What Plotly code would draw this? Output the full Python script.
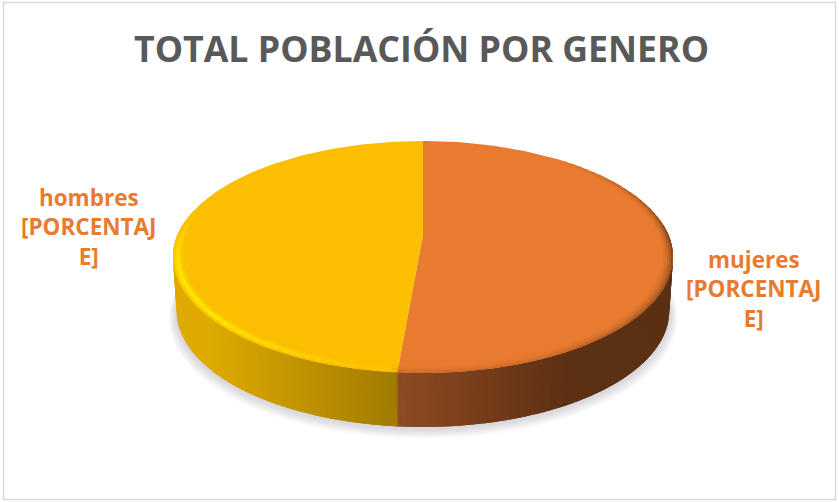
import numpy as np
import plotly.graph_objects as go

# ---- data ----
title_text = "TOTAL POBLACIÓN POR GENERO"
categories = ["mujeres", "hombres"]
values = [51.35, 48.65]
value_label = "[PORCENTAJ<br>E]"
colors = ["#E97B30", "#FBBE00"]

# ---- 3D-look projection of the unit disc into the 839x502 canvas ----
CX, APEX_Y, K, A, B, DEPTH = 423.0, 235.0, -0.1897, 111.8, 245.5, 54.0
OVERLAP = 0.02


def rim(theta, r=1.0, drop=0.0, scale=1.0):
    x = r * np.sin(theta)
    y = -r * np.cos(theta)
    d = 1 + K * y
    return CX + scale * B * x / d, APEX_Y + A * y / d + drop


def mix(c1, c2, t):
    t = float(np.clip(t, 0, 1))
    return "rgb(%d,%d,%d)" % tuple(round(a + (b - a) * t) for a, b in zip(c1, c2))


def poly(xs, ys, color):
    return go.Scatter(x=xs, y=ys, mode="lines", fill="toself", fillcolor=color,
                      line=dict(width=0), hoverinfo="skip", showlegend=False)


fig = go.Figure()
fractions = np.cumsum([0] + values) / sum(values) * 2 * np.pi
split = fractions[1]
t_all = np.linspace(0, 2 * np.pi, 240)

# soft ground shadow
for grow, shift in [(1.03, 6), (1.024, 5), (1.018, 4), (1.012, 3), (1.006, 2)]:
    sx, sy = rim(t_all, grow, DEPTH + shift, 0.985)
    fig.add_trace(go.Scatter(x=sx, y=sy, mode="lines", fill="toself",
                             fillcolor="rgba(90,90,110,0.05)", line=dict(width=0),
                             hoverinfo="skip", showlegend=False))

# side wall, front half only: shaded by horizontal position.
# Strips are painted in order, each running under the next, so no seams show.
edges = np.unique(np.r_[np.linspace(np.pi / 2 - 0.12, 3 * np.pi / 2 + 0.12, 181), split])
for a0, a1 in zip(edges[:-1], edges[1:]):
    mid = (a0 + a1) / 2
    xm = rim(mid)[0]
    if mid < split:
        col = mix((142, 74, 34), (92, 48, 18), (xm - 399) / 170)
    else:
        col = mix((160, 122, 0), (222, 170, 0), (399 - xm) / 190)
    seg = np.linspace(a0, a1 + OVERLAP, 4)
    tx, ty = rim(seg)
    bx, by = rim(seg[::-1], 1.0, DEPTH, 0.985)
    fig.add_trace(poly(np.r_[tx, bx, tx[0]], np.r_[ty, by, ty[0]], col))

# top slices
for i, (start, stop) in enumerate(zip(fractions[:-1], fractions[1:])):
    t = np.linspace(start, stop, 160)
    xs, ys = rim(t)
    ax, ay = rim(np.array([0.0]), 0.0)
    fig.add_trace(poly(np.r_[ax, xs, ax], np.r_[ay, ys, ay], colors[i]))

# bevel around the rim: (outer radius, inner radius, dark weight, bright weight)
band = [(1.000, 0.993, 0.75, 0.15), (0.993, 0.985, 0.50, 0.55), (0.985, 0.977, 0.30, 1.00),
        (0.977, 0.969, 0.16, 0.60), (0.969, 0.961, 0.07, 0.25)]
edges = np.unique(np.r_[np.linspace(np.pi / 2 - 0.9, 3 * np.pi / 2 + 0.2, 100), split])
for r0, r1, dark, bright in band:
    for a0, a1 in zip(edges[:-1], edges[1:]):
        mid = (a0 + a1) / 2
        if mid < split:
            lit = np.clip((mid - (np.pi / 2 - 0.9)) / 0.9, 0, 1)
            right = np.clip((split - mid) / 1.6, 0.3, 1)
            col = mix((233, 123, 48), (96, 50, 20), dark * lit * right)
        else:
            lit = np.clip((mid - split) / 0.7, 0.1, 1) * np.clip((3 * np.pi / 2 + 0.2 - mid) / 0.5, 0, 1)
            col = mix((251, 190, 0), (255, 236, 0), bright * lit)
        seg = np.linspace(a0, a1 + OVERLAP, 4)
        ox, oy = rim(seg, r0)
        ix, iy = rim(seg[::-1], r1)
        fig.add_trace(poly(np.r_[ox, ix, ox[0]], np.r_[oy, iy, oy[0]], col))

label_pos = [(754, 289), (88.5, 227)]
for name, col, (lx, ly) in zip(categories, colors, label_pos):
    fig.add_annotation(x=lx, y=ly, xref="x", yref="y", showarrow=False, align="center",
                       text=f"<b>{name}<br>{value_label}</b>",
                       font=dict(family="Open Sans, Noto Sans, sans-serif", size=22.5, color=colors[0]))

fig.add_annotation(x=421, y=48, xref="x", yref="y", showarrow=False,
                   text=f"<b>{title_text}</b>",
                   font=dict(family="Open Sans, Noto Sans, sans-serif", size=35.7, color="#595959"))

fig.add_shape(type="rect", x0=3.5, y0=2.5, x1=835.5, y1=499.5, xref="x", yref="y",
              line=dict(color="#D9D9D9", width=1.5), fillcolor="rgba(0,0,0,0)")

fig.update_layout(
    width=839, height=502, autosize=False,
    margin=dict(l=0, r=0, t=0, b=0),
    paper_bgcolor="white", plot_bgcolor="white",
    xaxis=dict(range=[0, 839], visible=False, fixedrange=True),
    yaxis=dict(range=[502, 0], visible=False, fixedrange=True),
    showlegend=False,
)
fig.write_html("out.html", config=dict(displayModeBar=False),
               post_script="document.body.style.margin='0';document.body.style.overflow='hidden';")
